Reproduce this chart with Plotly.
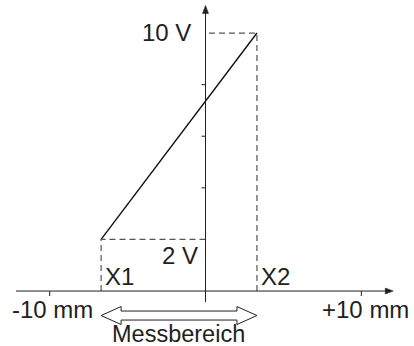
import plotly.graph_objects as go

# ---- data ----
x_ticks = [-10, 10]
x_tick_labels = ["-10 mm", "+10 mm"]
y_ticks = [4, 6, 8]
x_range_points = [-6.7, 3.3]      # X1, X2 (mm)
v_points = [2, 10]                # output voltage at X1, X2 (V)
point_labels = ["X1", "X2"]
v_labels = ["2 V", "10 V"]
range_label = "Messbereich"

# ---- layout helpers ----
W, H = 414, 346
XMIN, XMAX = -13.19, 13.38
YMIN, YMAX = -2.13, 11.28
pxx = W / (XMAX - XMIN)   # px per mm
pxy = H / (YMAX - YMIN)   # px per V

FONT = dict(family="Liberation Sans, Arial, sans-serif", size=24, color="#231f20")
AX = "#231f20"
DASH = "#555555"

fig = go.Figure()

# characteristic line
fig.add_trace(go.Scatter(x=x_range_points, y=v_points, mode="lines",
                         line=dict(color="#111111", width=1.4), hoverinfo="skip"))

# dashed guide lines
x1, x2 = x_range_points
v1, v2 = v_points
for xp, vp in [(x1, v1), (x2, v2)]:
    fig.add_trace(go.Scatter(x=[xp, xp, 0], y=[0, vp, vp], mode="lines",
                             line=dict(color=DASH, width=1.2, dash="6px,4px"),
                             hoverinfo="skip"))

shapes = []
# axes
x_left, x_right = -12.16, 11.6
y_bottom, y_top = -0.43, 10.8
shapes.append(dict(type="line", x0=x_left, x1=x_right, y0=0, y1=0,
                   line=dict(color=AX, width=1)))
shapes.append(dict(type="line", x0=0, x1=0, y0=y_bottom, y1=y_top,
                   line=dict(color=AX, width=1)))
# arrow heads
ah_len, ah_half = 7, 3
shapes.append(dict(type="path",
                   path=f"M {x_right - 1/pxx} {3/pxy} L {x_right + ah_len/pxx} 0 L {x_right - 1/pxx} {-3/pxy} Z",
                   fillcolor=AX, line=dict(color=AX, width=0.5)))
shapes.append(dict(type="path",
                   path=f"M {-ah_half/pxx} {y_top - 1/pxy} L 0 {y_top + ah_len/pxy} L {ah_half/pxx} {y_top - 1/pxy} Z",
                   fillcolor=AX, line=dict(color=AX, width=0.5)))
# ticks
for t in y_ticks:
    shapes.append(dict(type="line", x0=-4/pxx, x1=0, y0=t, y1=t,
                       line=dict(color=AX, width=1)))
for t in x_ticks:
    shapes.append(dict(type="line", x0=t, x1=t, y0=0, y1=-5/pxy,
                       line=dict(color=AX, width=1)))

# hollow double arrow (Messbereich)
yc = -24.5 / pxy
sh = 4.5 / pxy
hh = 9 / pxy
hl = 20 / pxx
path = (f"M {x1} {yc} L {x1 + hl} {yc + hh} L {x1 + hl} {yc + sh} "
        f"L {x2 - hl} {yc + sh} L {x2 - hl} {yc + hh} L {x2} {yc} "
        f"L {x2 - hl} {yc - hh} L {x2 - hl} {yc - sh} L {x1 + hl} {yc - sh} "
        f"L {x1 + hl} {yc - hh} Z")
shapes.append(dict(type="path", path=path, fillcolor="white",
                   line=dict(color=AX, width=1)))

annotations = []
# tick labels
for t, lab in zip(x_ticks, x_tick_labels):
    annotations.append(dict(x=t, y=0, text=lab, showarrow=False, font=FONT,
                            xanchor="center", yanchor="middle", yshift=-18,
                            xshift=3 if t < 0 else 4))
# voltage labels
annotations.append(dict(x=0, y=v2, text=v_labels[1], showarrow=False, font=FONT,
                        xanchor="right", yanchor="middle", xshift=-13, yshift=1))
annotations.append(dict(x=0, y=v1, text=v_labels[0], showarrow=False, font=FONT,
                        xanchor="right", yanchor="middle", xshift=-6, yshift=-16))
# X1, X2
for xp, lab in zip(x_range_points, point_labels):
    annotations.append(dict(x=xp, y=0, text=lab, showarrow=False, font=FONT,
                            xanchor="left", yanchor="middle", xshift=2, yshift=15))
annotations.append(dict(x=(x1 + x2) / 2, y=0, text=range_label, showarrow=False,
                        font=dict(FONT, size=23.5), xanchor="center", yanchor="middle",
                        yshift=-43, xshift=-1))

fig.update_layout(
    width=W, height=H, margin=dict(l=0, r=0, t=0, b=0),
    paper_bgcolor="white", plot_bgcolor="white", showlegend=False,
    xaxis=dict(range=[XMIN, XMAX], visible=False, fixedrange=True),
    yaxis=dict(range=[YMIN, YMAX], visible=False, fixedrange=True),
    shapes=shapes, annotations=annotations,
)

fig.write_html("out.html", config={"displayModeBar": False},
               post_script="document.body.style.margin='0';document.body.style.padding='0';document.body.style.overflow='hidden';")
